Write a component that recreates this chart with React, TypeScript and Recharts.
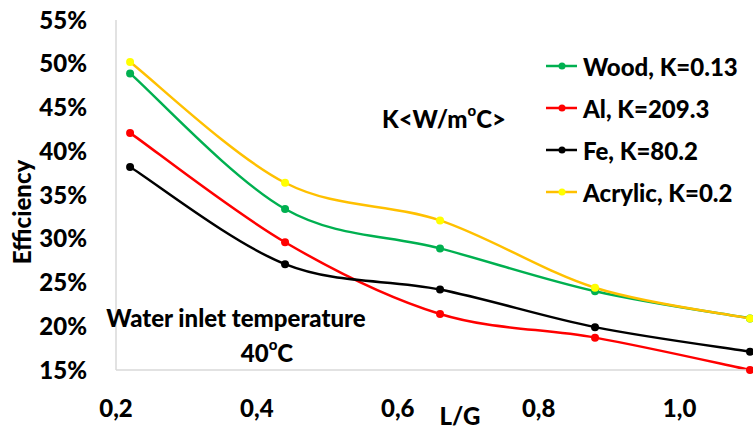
import React from 'react';
import { LineChart, Line, XAxis, YAxis, Legend } from 'recharts';

const lgValues = [0.22, 0.44, 0.66, 0.88, 1.1];
const wood = [48.9, 33.4, 28.9, 24.0, 20.9];
const al = [42.1, 29.6, 21.4, 18.7, 15.0];
const fe = [38.2, 27.1, 24.2, 19.9, 17.1];
const acrylic = [50.2, 36.4, 32.1, 24.4, 20.9];

const xTicks = [0.2, 0.4, 0.6, 0.8, 1.0];
const yTicks = [15, 20, 25, 30, 35, 40, 45, 50, 55];

const series = [
  { key: 'wood', name: 'Wood, K=0.13', line: '#00b050', dot: '#00b050' },
  { key: 'al', name: 'Al, K=209.3', line: '#ff0000', dot: '#ff0000' },
  { key: 'fe', name: 'Fe, K=80.2', line: '#000000', dot: '#000000' },
  { key: 'acrylic', name: 'Acrylic, K=0.2', line: '#ffc000', dot: '#ffff00' },
];

const data = lgValues.map((lg, i) => ({
  lg,
  wood: wood[i],
  al: al[i],
  fe: fe[i],
  acrylic: acrylic[i],
}));

const FONT = 'Lato, sans-serif';
const FS = 24;
const FW = 900;

// excel-like smoothed line (catmull-rom as bezier)
const smoothCurve = (context: any) => {
  let pts: [number, number][] = [];
  return {
    areaStart() {},
    areaEnd() {},
    lineStart() {
      pts = [];
    },
    lineEnd() {
      if (!pts.length) return;
      context.moveTo(pts[0][0], pts[0][1]);
      for (let i = 0; i < pts.length - 1; i++) {
        const p0 = pts[Math.max(i - 1, 0)];
        const p1 = pts[i];
        const p2 = pts[i + 1];
        const p3 = pts[Math.min(i + 2, pts.length - 1)];
        context.bezierCurveTo(
          p1[0] + (p2[0] - p0[0]) / 6,
          p1[1] + (p2[1] - p0[1]) / 6,
          p2[0] - (p3[0] - p1[0]) / 6,
          p2[1] - (p3[1] - p1[1]) / 6,
          p2[0],
          p2[1]
        );
      }
    },
    point(x: number, y: number) {
      pts.push([x, y]);
    },
  };
};

const renderLegend = (props: any) => {
  const payload = [...(props.payload || [])].sort(
    (a: any, b: any) =>
      series.findIndex((s) => s.key === a.dataKey) - series.findIndex((s) => s.key === b.dataKey)
  );
  return (
    <div style={{ fontFamily: FONT, fontWeight: FW, fontSize: FS, color: '#000' }}>
      {payload.map((entry: any) => {
        const s = series.find((d) => d.key === entry.dataKey) || series[0];
        return (
          <div key={s.key} style={{ display: 'flex', alignItems: 'center', height: 42 }}>
            <svg width={36} height={10} style={{ marginRight: 1 }}>
              <line x1={0} y1={5} x2={31} y2={5} stroke={s.line} strokeWidth={2.5} />
              <circle cx={16} cy={5} r={3.5} fill={s.dot} />
            </svg>
            <span style={{ whiteSpace: 'nowrap' }}>{entry.value}</span>
          </div>
        );
      })}
    </div>
  );
};

export default function App() {
  const tickStyle = { fontFamily: FONT, fontWeight: FW, fontSize: FS, fill: '#000' };
  return (
    <div style={{ position: 'absolute', left: 0, top: 0, width: 753, height: 430, background: '#fff' }}>
      <LineChart width={753} height={430} data={data} margin={{ top: 20, right: 3, bottom: 0, left: 0 }}>
        <XAxis
          dataKey="lg"
          type="number"
          domain={[0.2, 1.1]}
          ticks={xTicks}
          tickFormatter={(v: number) => v.toFixed(1).replace('.', ',')}
          tickLine={false}
          axisLine={{ stroke: '#d9d9d9', strokeWidth: 1.5 }}
          tick={tickStyle}
          tickMargin={24}
          height={60}
          interval={0}
        />
        <YAxis
          type="number"
          domain={[15, 55]}
          ticks={yTicks}
          tickFormatter={(v: number) => `${v}%`}
          tickLine={false}
          axisLine={{ stroke: '#d9d9d9', strokeWidth: 1.5 }}
          tick={tickStyle}
          tickMargin={23}
          width={116}
          interval={0}
        />
        <Legend
          layout="vertical"
          align="center"
          verticalAlign="middle"
          content={renderLegend}
          wrapperStyle={{ left: 546, top: 45, width: 210 }}
        />
        {series.map((s) => (
          <Line
            key={s.key}
            dataKey={s.key}
            name={s.name}
            type={smoothCurve as any}
            stroke={s.line}
            strokeWidth={2.5}
            dot={{ r: 4, fill: s.dot, stroke: s.dot, strokeWidth: 0 }}
            activeDot={false}
            isAnimationActive={false}
          />
        ))}
      </LineChart>
      <svg
        width={753}
        height={430}
        style={{ position: 'absolute', left: 0, top: 0, pointerEvents: 'none' }}
        fontFamily={FONT}
        fontWeight={FW}
        fontSize={FS}
      >
        <text x={21} y={212} transform="rotate(-90 21 212)" textAnchor="middle" dominantBaseline="central">
          Efficiency
        </text>
        <text x={460} y={415} textAnchor="middle" dominantBaseline="central">
          L/G
        </text>
        <text x={382} y={118} dominantBaseline="central">
          K&lt;W/m
          <tspan fontSize={15} dy={-8}>o</tspan>
          <tspan dy={8}>C&gt;</tspan>
        </text>
        <text x={236} y={317} textAnchor="middle" dominantBaseline="central">
          Water inlet temperature
        </text>
        <text x={267} y={352} textAnchor="middle" dominantBaseline="central">
          40
          <tspan fontSize={15} dy={-8}>o</tspan>
          <tspan dy={8}>C</tspan>
        </text>
      </svg>
    </div>
  );
}
